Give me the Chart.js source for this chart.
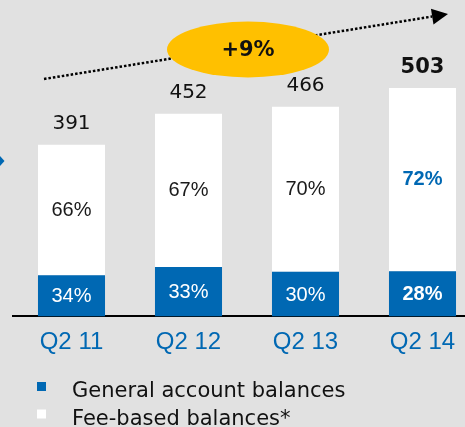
<!DOCTYPE html>
<html>
<head>
<meta charset="utf-8">
<script src="https://cdn.jsdelivr.net/npm/chart.js@4.4.1/dist/chart.umd.min.js"></script>
<style>
    html, body { margin: 0; padding: 0; background: #e1e1e1; overflow: hidden; }
    #chart { display: block; }
</style>
</head>
<body>
<canvas id="chart" width="500" height="427"></canvas>
<script>
// Chart data
const quarters = ['Q2 11', 'Q2 12', 'Q2 13', 'Q2 14'];
const totalBalances = [391, 452, 466, 503];
const generalShare = [34, 33, 30, 28];
const feeShare = [66, 67, 70, 72];
const growthLabel = '+9%';
const legendLabels = ['General account balances', 'Fee-based balances*'];

const BLUE = '#0068b3';
const VERDANA = '"DejaVu Sans", Verdana, sans-serif';
const ARIAL = '"Liberation Sans", Arial, sans-serif';

const generalValues = totalBalances.map((t, i) => t * generalShare[i] / 100);
const feeValues = totalBalances.map((t, i) => t - generalValues[i]);

// Percentages inside the bars and totals above them
const barLabels = {
    id: 'barLabels',
    afterDatasetsDraw(chart) {
        const ctx = chart.ctx;
        const bottom = chart.chartArea.bottom;
        const gen = chart.getDatasetMeta(0).data;
        const fee = chart.getDatasetMeta(1).data;
        ctx.save();
        ctx.textAlign = 'center';
        ctx.textBaseline = 'middle';
        gen.forEach((bar, i) => {
            const last = i === gen.length - 1;
            ctx.font = (last ? 'bold ' : '') + '20px ' + ARIAL;
            ctx.fillStyle = '#ffffff';
            ctx.fillText(generalShare[i] + '%', bar.x, (bar.y + Math.min(bar.base, bottom)) / 2 + 1);

            const top = fee[i];
            ctx.fillStyle = last ? BLUE : '#1a1a1a';
            ctx.fillText(feeShare[i] + '%', top.x, (top.y + top.base) / 2);

            ctx.font = (last ? 'bold 21px ' : '20px ') + VERDANA;
            ctx.fillStyle = '#111111';
            ctx.fillText(totalBalances[i], top.x, top.y - 21);
        });
        ctx.restore();
    }
};

// Growth arrow, ellipse and legend
const decorations = {
    id: 'decorations',
    afterDraw(chart) {
        const ctx = chart.ctx;
        ctx.save();

        // dotted trend arrow
        const x0 = 44, y0 = 79, x1 = 448, y1 = 14;
        const ang = Math.atan2(y1 - y0, x1 - x0);
        const bx = x1 - 16 * Math.cos(ang), by = y1 - 16 * Math.sin(ang);
        ctx.strokeStyle = '#000';
        ctx.lineWidth = 2.5;
        ctx.setLineDash([2.5, 2]);
        ctx.beginPath();
        ctx.moveTo(x0, y0);
        ctx.lineTo(bx, by);
        ctx.stroke();
        ctx.setLineDash([]);
        ctx.fillStyle = '#000';
        ctx.beginPath();
        ctx.moveTo(x1, y1);
        ctx.lineTo(bx + 8 * Math.sin(ang), by - 8 * Math.cos(ang));
        ctx.lineTo(bx - 8 * Math.sin(ang), by + 8 * Math.cos(ang));
        ctx.closePath();
        ctx.fill();

        // yellow ellipse
        ctx.fillStyle = '#ffc000';
        ctx.beginPath();
        ctx.ellipse(248, 49.5, 81, 28, 0, 0, Math.PI * 2);
        ctx.fill();
        ctx.fillStyle = '#111';
        ctx.font = 'bold 21px ' + VERDANA;
        ctx.textAlign = 'center';
        ctx.textBaseline = 'middle';
        ctx.fillText(growthLabel, 248, 51);

        // small marker at the left edge
        ctx.fillStyle = BLUE;
        ctx.beginPath();
        ctx.moveTo(0, 156);
        ctx.lineTo(4.5, 161);
        ctx.lineTo(0, 166);
        ctx.closePath();
        ctx.fill();

        // legend
        const colors = [BLUE, '#ffffff'];
        ctx.font = '21px ' + VERDANA;
        ctx.textAlign = 'left';
        ctx.textBaseline = 'alphabetic';
        legendLabels.forEach((label, i) => {
            ctx.fillStyle = colors[i];
            ctx.fillRect(37, 382 + i * 27.5, 9, 9);
            ctx.fillStyle = '#111';
            ctx.fillText(label, 72, 397 + i * 28);
        });
        ctx.restore();
    }
};

new Chart(document.getElementById('chart').getContext('2d'), {
    type: 'bar',
    data: {
        labels: quarters,
        datasets: [{
            label: legendLabels[0],
            data: generalValues,
            backgroundColor: BLUE,
            borderWidth: 0
        }, {
            label: legendLabels[1],
            data: feeValues,
            backgroundColor: '#ffffff',
            borderWidth: 0
        }]
    },
    options: {
        responsive: false,
        animation: false,
        layout: {
            padding: { top: 39, left: 13, right: 19, bottom: 66 }
        },
        datasets: {
            bar: { categoryPercentage: 1, barPercentage: 0.573 }
        },
        scales: {
            x: {
                stacked: true,
                grid: { display: false },
                border: { display: true, color: '#000', width: 2 },
                ticks: {
                    color: BLUE,
                    padding: 4,
                    font: { family: ARIAL, size: 24 }
                }
            },
            y: {
                stacked: true,
                display: false,
                min: 52,
                max: 600
            }
        },
        plugins: {
            legend: { display: false },
            tooltip: { enabled: false }
        }
    },
    plugins: [barLabels, decorations]
});
</script>
</body>
</html>
